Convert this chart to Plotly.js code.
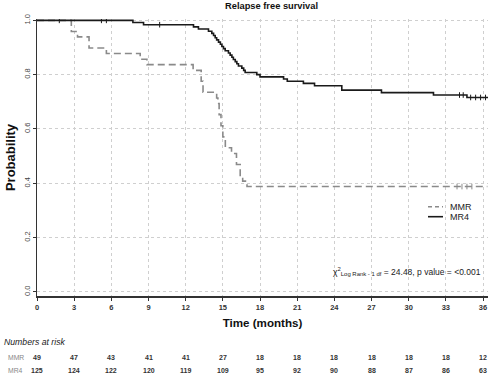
<!DOCTYPE html>
<html>
<head>
<meta charset="utf-8">
<script src="https://cdn.plot.ly/plotly-3.0.1.min.js"></script>
<style>html,body{margin:0;padding:0;background:#fff;}#chart{width:500px;height:383px;}</style>
</head>
<body>
<div id="chart"></div>
<script>
// ---- data ----
var mmrTime = [0, 2.77, 3.27, 4.2, 5.6, 8.33, 8.87, 12.6, 13.25, 13.4, 14.5, 14.6, 14.7, 14.85, 15.0, 15.2, 15.7, 16.1, 16.4, 16.6, 16.95, 36.35];
var mmrSurv = [1.0, 0.959, 0.939, 0.898, 0.878, 0.857, 0.837, 0.816, 0.776, 0.735, 0.714, 0.694, 0.653, 0.612, 0.571, 0.531, 0.510, 0.469, 0.429, 0.408, 0.388, 0.388];

var mr4Time = [0, 7.74, 8.6, 12.63, 13.03, 13.84, 14.11, 14.25, 14.38, 14.5, 14.65, 14.8, 14.92, 15.05, 15.19, 15.45, 15.59, 15.73, 15.85, 16.0, 16.13, 16.26, 16.53, 16.68, 16.8, 17.74, 18.0, 19.9, 20.2, 21.5, 22.4, 24.6, 27.8, 32.0, 34.7, 36.4];
var mr4Surv = [1.0, 0.992, 0.984, 0.976, 0.968, 0.960, 0.952, 0.944, 0.936, 0.928, 0.920, 0.912, 0.904, 0.896, 0.888, 0.880, 0.872, 0.864, 0.856, 0.848, 0.840, 0.832, 0.824, 0.816, 0.808, 0.800, 0.792, 0.784, 0.776, 0.768, 0.759, 0.743, 0.734, 0.725, 0.716, 0.716];

var mmrCensTime = [33.9, 34.3, 34.7, 35.1];
var mmrCensSurv = [0.388, 0.388, 0.388, 0.388];
var mr4CensTime = [1.8, 5.2, 5.6, 9.9, 34.1, 34.4, 35.0, 35.4, 35.8, 36.2];
var mr4CensSurv = [1.0, 1.0, 1.0, 0.984, 0.725, 0.725, 0.716, 0.716, 0.716, 0.716];

var riskTimes = [0, 3, 6, 9, 12, 15, 18, 21, 24, 27, 30, 33, 36];
var mmrRisk = [49, 47, 43, 41, 41, 27, 18, 18, 18, 18, 18, 18, 12];
var mr4Risk = [125, 124, 122, 120, 119, 109, 95, 92, 90, 88, 87, 86, 63];

var yTickVals = [0, 0.2, 0.4, 0.6, 0.8, 1.0];
var yTickText = ['0.0', '0.2', '0.4', '0.6', '0.8', '1.0'];
var groupNames = ['MMR', 'MR4'];

// ---- styling ----
var FONT = 'Liberation Sans, Arial, sans-serif';
var mmrColor = '#8a8a8a';
var mr4Color = '#1a1a1a';

var traces = [
  {x: mmrTime, y: mmrSurv, type: 'scatter', mode: 'lines', line: {shape: 'hv', color: mmrColor, width: 1.6, dash: '7px,4px'}, name: groupNames[0], showlegend: false, hoverinfo: 'skip'},
  {x: mr4Time, y: mr4Surv, type: 'scatter', mode: 'lines', line: {shape: 'hv', color: mr4Color, width: 1.6}, name: groupNames[1], showlegend: false, hoverinfo: 'skip'},
  {x: mmrCensTime, y: mmrCensSurv, type: 'scatter', mode: 'markers', marker: {symbol: 'line-ns-open', size: 4, color: mmrColor, line: {width: 1, color: mmrColor}}, showlegend: false, hoverinfo: 'skip'},
  {x: mr4CensTime, y: mr4CensSurv, type: 'scatter', mode: 'markers', marker: {symbol: 'line-ns-open', size: 4, color: mr4Color, line: {width: 1, color: mr4Color}}, showlegend: false, hoverinfo: 'skip'}
];

// plot area geometry (px) used for paper-coordinate placement of table text
var L = 37, R = 12, T = 19, B = 87, H = 383, W = 500;
var plotH = H - T - B, plotW = W - L - R;
function py(px) { return (H - B - px) / plotH; }
function pxX(px) { return (px - L) / plotW; }

var annotations = [];
annotations.push({xref: 'paper', yref: 'paper', x: pxX(331), y: py(271), xanchor: 'left', yanchor: 'middle', showarrow: false,
  text: 'χ<sup>2</sup><sub>Log Rank - 1 df</sub> = 24.48, p value = <0.001', font: {family: FONT, size: 8.5, color: '#222'}});
annotations.push({xref: 'paper', yref: 'paper', x: pxX(2), y: py(341.7), xanchor: 'left', yanchor: 'middle', showarrow: false,
  text: '<i>Numbers at risk</i>', font: {family: FONT, size: 8.7, color: '#222'}});
var rowY = [py(357.3), py(370)];
var rowData = [mmrRisk, mr4Risk];
for (var g = 0; g < 2; g++) {
  annotations.push({xref: 'paper', yref: 'paper', x: pxX(5.5), y: rowY[g], xanchor: 'left', yanchor: 'middle', showarrow: false,
    text: groupNames[g], font: {family: FONT, size: 6.8, color: '#888'}});
  for (var i = 0; i < riskTimes.length; i++) {
    annotations.push({xref: 'x', yref: 'paper', x: riskTimes[i], y: rowY[g], xanchor: 'center', yanchor: 'middle', showarrow: false,
      text: '<b>' + rowData[g][i] + '</b>', font: {family: FONT, size: 7, color: '#333'}});
  }
}
// legend
var legY = [py(206.7), py(216.7)];
var legColors = [mmrColor, mr4Color];
var legDash = ['4px,3px', 'solid'];
var shapes = [];
for (var k = 0; k < 2; k++) {
  shapes.push({type: 'line', xref: 'paper', yref: 'paper', x0: pxX(428), x1: pxX(443), y0: legY[k], y1: legY[k], line: {color: legColors[k], width: 1.6, dash: legDash[k]}});
  annotations.push({xref: 'paper', yref: 'paper', x: pxX(448), y: legY[k], xanchor: 'left', yanchor: 'middle', showarrow: false,
    text: groupNames[k], font: {family: FONT, size: 9, color: '#222'}});
}

var layout = {
  width: W, height: H,
  margin: {l: L, r: R, t: T, b: B, pad: 0},
  paper_bgcolor: '#fff', plot_bgcolor: '#fff',
  font: {family: FONT, color: '#333'},
  title: {text: '<b>Relapse free survival</b>', x: 260 / W, xanchor: 'center', xref: 'paper', y: 1 - 6 / H, yanchor: 'middle', yref: 'container', font: {family: FONT, size: 9.3, color: '#111'}},
  xaxis: {
    range: [0, 36.4], tickvals: riskTimes, ticktext: riskTimes.map(String),
    ticks: 'outside', ticklen: 3, tickwidth: 1, tickcolor: '#333',
    showline: true, linecolor: '#333', linewidth: 1.5,
    showgrid: true, gridcolor: '#cfcfcf', griddash: 'dot', gridwidth: 1, zeroline: false,
    tickfont: {family: FONT, size: 7.5, color: '#333', weight: 'bold'},
    title: {text: '<b>Time (months)</b>', font: {family: FONT, size: 11.6, color: '#111'}, standoff: 8}
  },
  yaxis: {
    range: [-0.015, 1.005], tickvals: yTickVals, ticktext: yTickText, tickangle: -90,
    ticks: 'outside', ticklen: 3, tickwidth: 1, tickcolor: '#333',
    showline: true, linecolor: '#333', linewidth: 1.5,
    showgrid: true, gridcolor: '#cfcfcf', griddash: 'dot', gridwidth: 1, zeroline: false,
    tickfont: {family: FONT, size: 7.5, color: '#444'},
    title: {text: '<b>Probability</b>', font: {family: FONT, size: 13, color: '#111'}, standoff: 4}
  },
  annotations: annotations,
  shapes: shapes,
  showlegend: false
};

Plotly.newPlot('chart', traces, layout, {staticPlot: true, displayModeBar: false});
</script>
</body>
</html>
